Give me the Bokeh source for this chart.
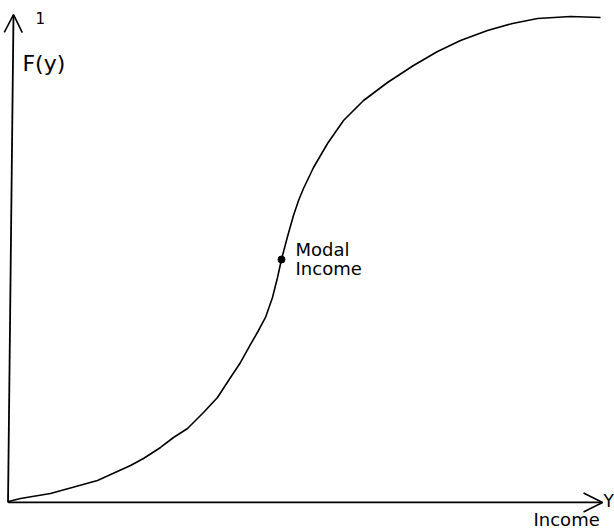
from bokeh.plotting import figure
from bokeh.models import Range1d, Arrow, OpenHead
from bokeh.embed import file_html
from bokeh.resources import INLINE
from bokeh.core.properties import value

# Cumulative distribution F(y) of income
income = [0.0, 2.03, 7.09, 15.03, 20.61, 22.80, 25.68, 27.87, 30.24, 32.94, 35.30,
          37.50, 39.19, 40.88, 42.23, 43.41, 44.59, 45.44, 46.11, 47.13, 48.14,
          48.99, 49.83, 51.52, 53.89, 56.59, 59.97, 64.02, 68.41, 72.47, 76.35,
          80.91, 85.14, 89.36, 94.93, 100.0]
cdf = [0.0, 0.0062, 0.0165, 0.0434, 0.0744, 0.0888, 0.1116, 0.1322, 0.1508, 0.1839,
       0.2149, 0.2562, 0.2872, 0.3244, 0.3533, 0.3802, 0.4215, 0.4628, 0.5, 0.5475,
       0.5909, 0.6219, 0.6467, 0.6901, 0.7397, 0.7872, 0.8285, 0.8657, 0.9008,
       0.9298, 0.9525, 0.9731, 0.9876, 0.9979, 1.0021, 1.0]

modal_income = [46.11]
modal_cdf = [0.5]

x_axis_end = 100.34
y_axis_end = 1.006

FONT = "DejaVu Sans"

p = figure(width=614, height=531, output_backend="svg", toolbar_location=None,
           x_range=Range1d(-1.351, 102.36), y_range=Range1d(-0.0620, 1.0351),
           min_border=0, outline_line_color=None)
p.axis.visible = False
p.grid.visible = False

# axes with open arrow heads
p.add_layout(Arrow(end=OpenHead(size=19, line_width=1.6, line_color="black"),
                   x_start=-0.05, y_start=-0.002, x_end=x_axis_end, y_end=-0.002,
                   line_width=1.8, line_color="black"))
p.add_layout(Arrow(end=OpenHead(size=18, line_width=1.6, line_color="black"),
                   x_start=-0.08, y_start=-0.002, x_end=0.845, y_end=y_axis_end,
                   line_width=1.8, line_color="black"))

# curve
p.line(income, cdf, line_width=1.6, line_color="black", line_join="round")
p.scatter(modal_income, modal_cdf, size=7, color="black")

# labels
p.text(x=[4.56], y=[0.998], text=["1"], text_font=value(FONT), text_font_size="15px",
       text_baseline="middle", text_align="left", text_color="black")
p.text(x=[2.36], y=[0.905], text=["F(y)"], text_font=value(FONT), text_font_size="22px",
       text_baseline="middle", text_align="left", text_color="black")
p.text(x=[48.48, 48.48], y=[0.5207, 0.4804], text=["Modal", "Income"],
       text_font=value(FONT), text_font_size="18px",
       text_baseline="middle", text_align="left", text_color="black")
p.text(x=[88.68], y=[-0.0372], text=["Income"], text_font=value(FONT), text_font_size="18px",
       text_baseline="middle", text_align="left", text_color="black")
p.text(x=[100.51], y=[0.002], text=["Y"], text_font=value(FONT), text_font_size="17px",
       text_baseline="middle", text_align="left", text_color="black")

open("out.html", "w").write(file_html(p, INLINE))
